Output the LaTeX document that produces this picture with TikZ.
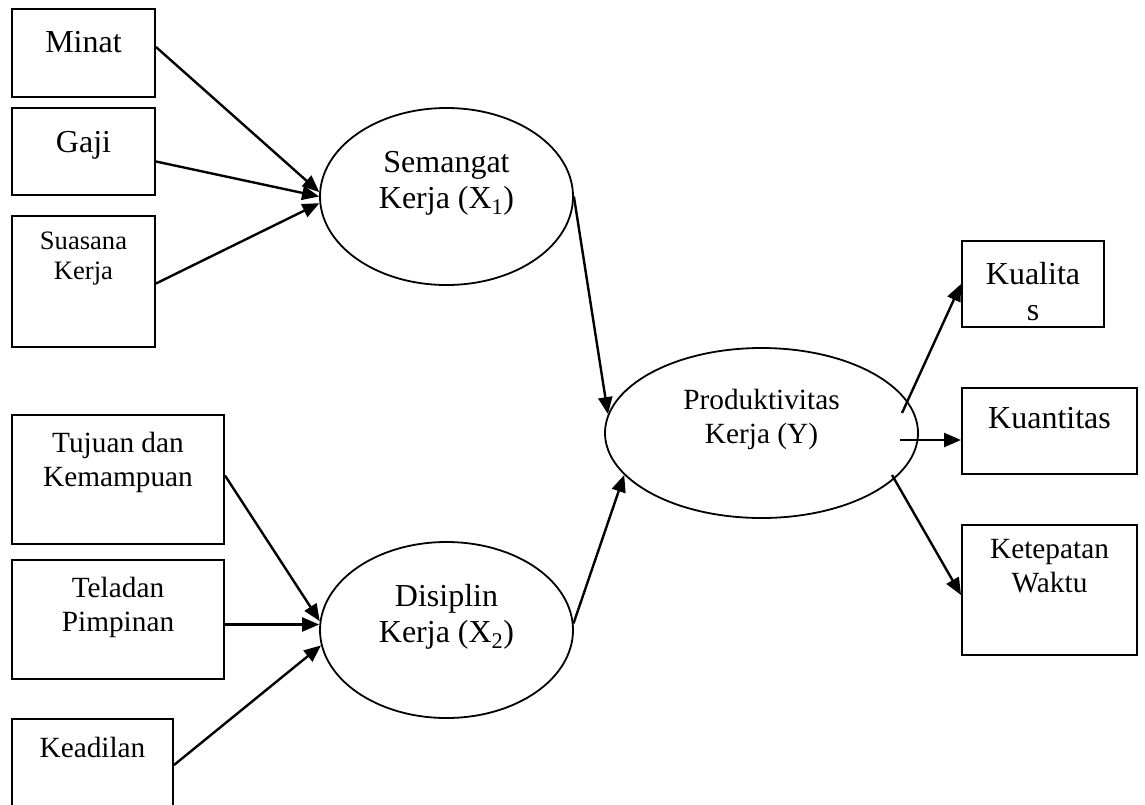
\documentclass[tikz,border=0pt]{standalone}
\usepackage{fontspec}
\setmainfont{Liberation Serif}
\usetikzlibrary{shapes.geometric,arrows.meta}

\begin{document}
\begin{tikzpicture}[x=1pt,y=-1pt,
    box/.style={draw,line width=2pt,rectangle,inner sep=0pt},
    oval/.style={draw,line width=1.8pt,ellipse,inner sep=0pt},
    big/.style={font=\fontsize{32}{36}\selectfont,align=center,inner sep=0pt,anchor=north},
    mid/.style={font=\fontsize{29.3}{34}\selectfont,align=center,inner sep=0pt,anchor=north},
    small/.style={font=\fontsize{26.6}{30}\selectfont,align=center,inner sep=0pt,anchor=north},
    arr/.style={-{Triangle[length=17pt,width=14pt]},line width=2.4pt}]
      \useasboundingbox (0,0) rectangle (1145,804);
      \clip (0,0) rectangle (1145,804);

      % indikator kiri
      \node[box,minimum width=143,minimum height=88] (minat) at (83.5,53){};
      \node[box,minimum width=143,minimum height=87] (gaji) at (83.5,151.5){};
      \node[box,minimum width=143,minimum height=131] (suasana) at (83.5,281.5){};
      \node[box,minimum width=212,minimum height=129] (tujuan) at (118,479.5){};
      \node[box,minimum width=212,minimum height=119] (teladan) at (118,619.5){};
      \node[box,minimum width=161,minimum height=122] (keadilan) at (92.5,780){};

      \node[big] (minat-t) at (83.5,31){Minat};
      \node[big] (gaji-t) at (83.5,131){Gaji};
      \node[small] (suasana-t) at (83.5,232){Suasana\\Kerja};
      \node[mid] (tujuan-t) at (118,432){Tujuan dan\\Kemampuan};
      \node[mid] (teladan-t) at (118,577){Teladan\\Pimpinan};
      \node[mid] (keadilan-t) at (92.5,737){Keadilan};

      % variabel
      \node[oval,minimum width=253,minimum height=177] (sem) at (446.5,196.5){};
      \node[oval,minimum width=253,minimum height=176] (dis) at (446.5,630){};
      \node[oval,minimum width=313,minimum height=170] (prod) at (761.5,433){};

      \node[big] (sem-t) at (446.5,151){Semangat\\Kerja (X\textsubscript{1})};
      \node[big] (dis-t) at (446.5,584){Disiplin\\Kerja (X\textsubscript{2})};
      \node[mid] (prod-t) at (761.5,389){Produktivitas\\Kerja (Y)};

      % indikator kanan
      \node[box,minimum width=142,minimum height=86] (kualitas) at (1033,284){};
      \node[box,minimum width=175,minimum height=86] (kuantitas) at (1049.5,431){};
      \node[box,minimum width=175,minimum height=130] (ketepatan) at (1049.5,590){};

      \node[big] (kualitas-t) at (1033,262){Kualita\\s};
      \node[big] (kuantitas-t) at (1049.5,407){Kuantitas};
      \node[mid] (ketepatan-t) at (1049.5,539){Ketepatan\\Waktu};

      \draw[arr] ([yshift=6]minat.east) -- (sem.178);
      \draw[arr] ([yshift=-10]gaji.east) -- (sem.180);
      \draw[arr] ([yshift=-2]suasana.east) -- (sem.183);

      \draw[arr] ([yshift=4]tujuan.east) -- (dis.176);
      \draw[arr] ([yshift=-5]teladan.east) -- ([yshift=-5]teladan.east -| dis.west);
      \draw[arr] ([yshift=15]keadilan.east) -- (dis.187);

      \draw[arr] (sem.east) -- (prod.173);
      \draw[arr] (dis.3) -- (prod.197);

      \coordinate (out1) at (902,413);
      \coordinate (out2) at (900,440);
      \coordinate (out3) at (892,475);
      \draw[arr] (out1) -- (kualitas.west);
      \draw[arr] (out2) -- (out2 -| kuantitas.west);
      \draw[arr] (out3) -- ([yshift=-5]ketepatan.west);
    \end{tikzpicture}
\end{document}
